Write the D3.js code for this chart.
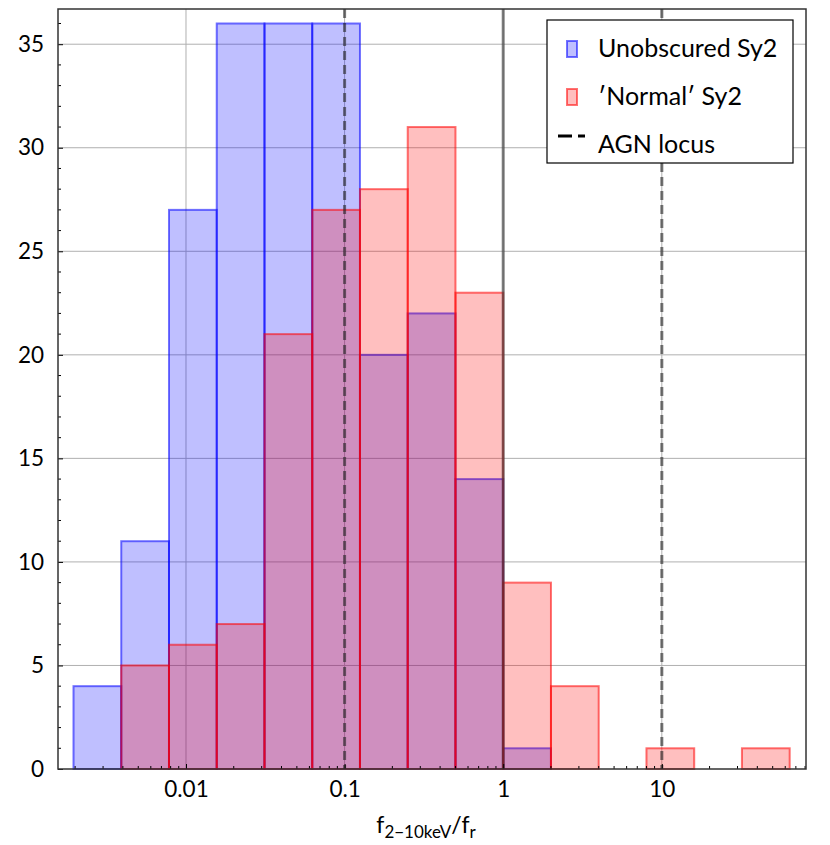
<!DOCTYPE html>
<html>
<head>
<meta charset="utf-8">
<script src="https://cdn.jsdelivr.net/npm/d3@7"></script>
<style>
  body { margin: 0; background: #fff; }
  svg text { font-family: Lato, "Open Sans", sans-serif; fill: #000; }
</style>
</head>
<body>
<div class="canvas"></div>
<script>
// bin edges of the histogram (factor 2 bins)
const binEdges = [0.001953125, 0.00390625, 0.0078125, 0.015625, 0.03125, 0.0625,
  0.125, 0.25, 0.5, 1, 2, 4, 8, 16, 32, 64];
// counts per bin
const unobscured = [4, 11, 27, 36, 36, 36, 20, 22, 14, 1, 0, 0, 0, 0, 0];
const normal = [0, 5, 6, 7, 21, 27, 28, 31, 23, 9, 4, 0, 1, 0, 1];
const agnLines = [0.1, 10];
const solidLine = 1;
const xTicks = [0.01, 0.1, 1, 10];
const xTickLabels = ["0.01", "0.1", "1", "10"];
const yTicks = [0, 5, 10, 15, 20, 25, 30, 35];
const legendLabels = ["Unobscured Sy2", "\u2032Normal\u2032 Sy2", "AGN locus"];

const W = 830, H = 845;
const m = { left: 58, top: 9, right: 24, bottom: 76 };
const iw = W - m.left - m.right;
const ih = H - m.top - m.bottom;

const svg = d3.select(".canvas").append("svg")
  .attr("width", W).attr("height", H);

const x = d3.scaleLog().domain([10 ** -2.807, 10 ** 1.909]).range([0, iw]);
const y = d3.scaleLinear().domain([0, 36.7]).range([ih, 0]);

const g = svg.append("g").attr("transform", `translate(${m.left},${m.top})`);

// grid
const grid = g.append("g");
grid.selectAll("line.gy").data(yTicks.slice(1)).enter().append("line")
  .attr("x1", 0).attr("x2", iw)
  .attr("y1", d => y(d)).attr("y2", d => y(d))
  .attr("stroke", "#b0b0b0").attr("stroke-width", 1);
grid.selectAll("line.gx").data(xTicks).enter().append("line")
  .attr("x1", d => x(d)).attr("x2", d => x(d))
  .attr("y1", 0).attr("y2", ih)
  .attr("stroke", "#b0b0b0").attr("stroke-width", 1);

function bins(counts) {
  return counts.map((c, i) => ({ x0: binEdges[i], x1: binEdges[i + 1], c }))
    .filter(d => d.c > 0);
}

function drawHist(data, color) {
  g.append("g").selectAll("rect").data(bins(data)).enter().append("rect")
    .attr("x", d => x(d.x0))
    .attr("width", d => x(d.x1) - x(d.x0))
    .attr("y", d => y(d.c))
    .attr("height", d => ih - y(d.c))
    .attr("fill", color).attr("fill-opacity", 0.25)
    .attr("stroke", color).attr("stroke-opacity", 0.55)
    .attr("stroke-width", 2);
}
drawHist(unobscured, "blue");
drawHist(normal, "red");

// reference lines
g.selectAll("line.agn").data(agnLines).enter().append("line")
  .attr("x1", d => x(d)).attr("x2", d => x(d))
  .attr("y1", 0).attr("y2", ih)
  .attr("stroke", "#222").attr("stroke-opacity", 0.6)
  .attr("stroke-width", 3).attr("stroke-dasharray", "9,5");
g.append("line")
  .attr("x1", x(solidLine)).attr("x2", x(solidLine))
  .attr("y1", 0).attr("y2", ih)
  .attr("stroke", "#333").attr("stroke-opacity", 0.6)
  .attr("stroke-width", 3);

// axes
const xAxis = d3.axisBottom(x).tickValues(xTicks)
  .tickFormat((d, i) => xTickLabels[i]).tickSizeInner(-5).tickSizeOuter(0).tickPadding(12);
const xa = g.append("g").attr("transform", `translate(0,${ih})`).call(xAxis);
xa.selectAll("text").style("font-size", "22.5px");

const minorX = [];
for (let e = -3; e <= 1; e++) {
  for (let k = 2; k <= 9; k++) {
    const v = k * 10 ** e;
    if (v > x.domain()[0] && v < x.domain()[1]) minorX.push(v);
  }
}
xa.selectAll("line.minor").data(minorX).enter().append("line")
  .attr("x1", d => x(d)).attr("x2", d => x(d))
  .attr("y1", 0).attr("y2", -3).attr("stroke", "#000");

const yAxis = d3.axisLeft(y).tickValues(yTicks)
  .tickSizeInner(-5).tickSizeOuter(0).tickPadding(14);
const ya = g.append("g").call(yAxis);
ya.selectAll("text").style("font-size", "22.5px");
ya.selectAll("line.minor").data(d3.range(1, 37).filter(v => v % 5 !== 0)).enter()
  .append("line")
  .attr("x1", 0).attr("x2", 3)
  .attr("y1", d => y(d)).attr("y2", d => y(d)).attr("stroke", "#000");
g.selectAll(".domain").remove();

// frame
g.append("rect").attr("width", iw).attr("height", ih)
  .attr("fill", "none").attr("stroke", "#333").attr("stroke-width", 1.5);

// x label
const xl = svg.append("text")
  .attr("x", 426).attr("y", 833).attr("text-anchor", "middle")
  .style("font-size", "23px");
xl.append("tspan").text("f");
xl.append("tspan").attr("dy", 5).style("font-size", "17px").text("2\u221210keV");
xl.append("tspan").attr("dy", -5).text("/f");
xl.append("tspan").attr("dy", 5).style("font-size", "17px").text("r");

// legend
const lg = svg.append("g").attr("transform", "translate(547,20)");
lg.append("rect").attr("width", 246).attr("height", 143)
  .attr("fill", "#fff").attr("stroke", "#000").attr("stroke-width", 1.2);
const colors = ["blue", "red"];
colors.forEach((c, i) => {
  lg.append("rect")
    .attr("x", 20).attr("y", 21 + i * 48).attr("width", 10).attr("height", 16)
    .attr("fill", c).attr("fill-opacity", 0.25)
    .attr("stroke", c).attr("stroke-opacity", 0.55).attr("stroke-width", 2);
});
lg.append("line").attr("x1", 11).attr("x2", 38).attr("y1", 116).attr("y2", 116)
  .attr("stroke", "#000").attr("stroke-width", 3).attr("stroke-dasharray", "14,6");
legendLabels.forEach((t, i) => {
  lg.append("text").attr("x", 51).attr("y", 37 + i * 48)
    .style("font-size", "25px").text(t);
});
</script>
</body>
</html>
